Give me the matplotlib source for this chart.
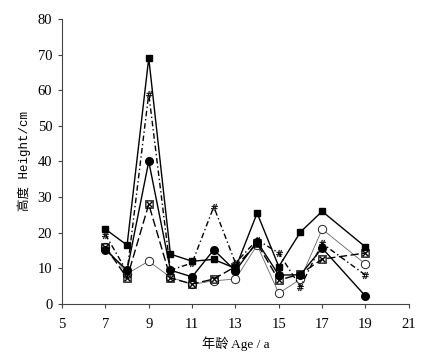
import matplotlib
matplotlib.use("Agg")
import matplotlib.pyplot as plt

ages = [7, 8, 9, 10, 11, 12, 13, 14, 15, 16, 17, 19]
s_square = [21, 16.5, 69, 14, 12, 12.5, 10, 25.5, 10.5, 20.2, 26, 16]
s_dot = [15.2, 9.5, 40, 9.5, 7.6, 15.2, 9.3, 17.5, 8.1, 8.2, 15.7, 2.2]
s_open = [16, 8.5, 12, 7.5, 5.5, 6.5, 7, 16.5, 3, 7, 21, 11.2]
s_hash = [19.5, 9, 59, 9.5, 11.5, 27.3, 11.5, 18, 14.3, 4.8, 17, 8.1]
s_box = [16, 7.3, 28, 7.3, 5.6, 7, 10.5, 17, 6.7, 8.4, 12.6, 14.3]

xticks = [5, 7, 9, 11, 13, 15, 17, 19, 21]
yticks = [0, 10, 20, 30, 40, 50, 60, 70, 80]

fig = plt.figure(figsize=(4.34, 3.57), dpi=100)
ax = fig.add_axes([0.143, 0.1485, 0.799, 0.7985])

ax.plot(ages, s_open, color='#666666', lw=0.6, marker='o', ms=6,
        mfc='white', mec='#222222', mew=0.7, zorder=2)
ax.plot(ages, s_box, color='black', lw=1.0, ls=(0, (6, 2.5)),
        marker=r'$\boxtimes$', ms=6, mfc='black', mec='black', mew=0.2, zorder=3)
ax.plot(ages, s_hash, color='black', lw=1.0, ls=(0, (4, 2, 1, 2)),
        marker=r'$\#$', ms=5, mfc='black', mec='black', mew=0.2, zorder=3)
ax.plot(ages, s_dot, color='black', lw=1.0, marker='o', ms=5.5,
        mfc='black', mec='black', zorder=4)
ax.plot(ages, s_square, color='black', lw=1.0, marker='s', ms=4.5,
        mfc='black', mec='black', zorder=5)

ax.set_xlim(5, 21)
ax.set_ylim(0, 80)
ax.set_xticks(xticks)
ax.set_yticks(yticks)
ax.spines['top'].set_visible(False)
ax.spines['right'].set_visible(False)
for s in ['left', 'bottom']:
    ax.spines[s].set_color('#444444')
    ax.spines[s].set_linewidth(0.8)
ax.tick_params(direction='out', length=3, width=0.8, color='#444444',
               labelsize=10.5)
ax.tick_params(axis='x', pad=7)
ax.tick_params(axis='y', pad=4)
for lab in ax.get_xticklabels() + ax.get_yticklabels():
    lab.set_family(['Liberation Serif'])

fam = ['Liberation Serif', 'Noto Sans CJK SC']
ax.set_xlabel('年龄 Age / a', fontsize=9.5, family=fam)
ax.xaxis.set_label_coords(0.5, -0.115)
ax.set_ylabel('高度 Height/cm', fontsize=9,
              family=['Liberation Mono', 'Noto Sans CJK SC'])
ax.yaxis.set_label_coords(-0.09, 0.5)

fig.savefig('out.png', dpi=100)
